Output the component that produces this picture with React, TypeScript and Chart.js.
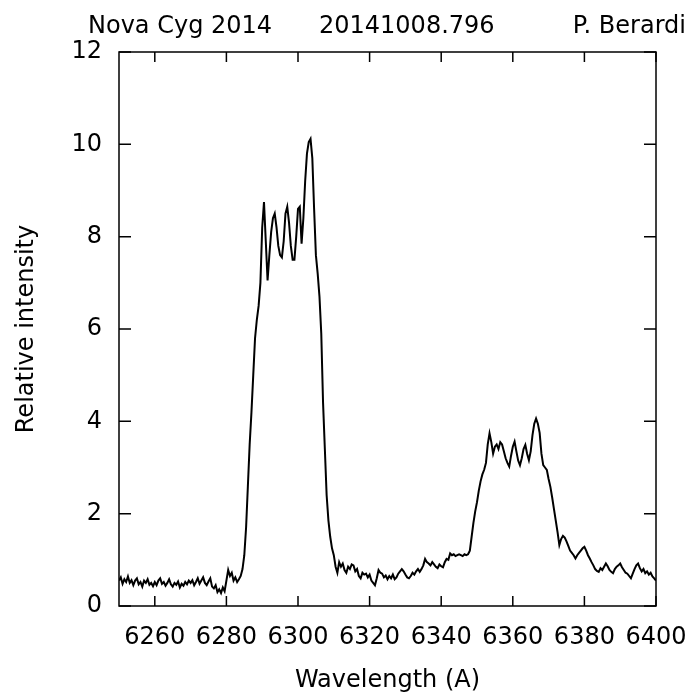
import { useEffect, useRef } from "react";
import { Chart, registerables } from "chart.js";

Chart.register(...registerables);

const TITLE_LEFT = "Nova Cyg 2014";
const TITLE_MID = "20141008.796";
const TITLE_RIGHT = "P. Berardi";
const X_LABEL = "Wavelength (A)";
const Y_LABEL = "Relative intensity";

const X_MIN = 6250;
const X_MAX = 6400;
const Y_MIN = 0;
const Y_MAX = 12;
const X_TICKS = [6260, 6280, 6300, 6320, 6340, 6360, 6380, 6400];
const Y_TICKS = [0, 2, 4, 6, 8, 10, 12];

// spectrum sampled every 0.5 A starting at 6250 A
const WL_START = 6250;
const WL_STEP = 0.5;
const INTENSITY = [
  0.55, 0.62, 0.48, 0.58, 0.52, 0.64, 0.50, 0.56, 0.45, 0.55, // 6250
  0.60, 0.47, 0.52, 0.42, 0.55, 0.50, 0.58, 0.46, 0.50, 0.43, // 6255
  0.52, 0.45, 0.55, 0.60, 0.48, 0.52, 0.44, 0.50, 0.58, 0.47, // 6260
  0.42, 0.50, 0.46, 0.53, 0.40, 0.48, 0.44, 0.52, 0.47, 0.55, // 6265
  0.50, 0.56, 0.45, 0.52, 0.60, 0.48, 0.55, 0.62, 0.50, 0.45, // 6270
  0.53, 0.60, 0.42, 0.38, 0.45, 0.30, 0.36, 0.28, 0.40, 0.32, // 6275
  0.55, 0.78, 0.65, 0.72, 0.55, 0.62, 0.52, 0.58, 0.65, 0.80, // 6280
  1.10, 1.70, 2.60, 3.50, 4.20, 5.00, 5.80, 6.20, 6.50, 7.00, // 6285
  8.20, 8.75, 7.90, 7.05, 7.60, 8.10, 8.40, 8.50, 8.20, 7.80, // 6290
  7.60, 7.55, 7.90, 8.50, 8.65, 8.30, 7.80, 7.50, 7.50, 8.00, // 6295
  8.60, 8.65, 7.85, 8.40, 9.20, 9.80, 10.05, 10.12, 9.70, 8.60, // 6300
  7.60, 7.20, 6.70, 5.90, 4.40, 3.40, 2.40, 1.85, 1.50, 1.25, // 6305
  1.10, 0.85, 0.72, 0.95, 0.85, 0.92, 0.78, 0.72, 0.85, 0.80, // 6310
  0.90, 0.88, 0.75, 0.80, 0.65, 0.60, 0.72, 0.68, 0.70, 0.62, // 6315
  0.68, 0.55, 0.50, 0.45, 0.60, 0.78, 0.72, 0.70, 0.62, 0.66, // 6320
  0.58, 0.65, 0.60, 0.68, 0.58, 0.62, 0.70, 0.75, 0.80, 0.75, // 6325
  0.68, 0.62, 0.60, 0.65, 0.72, 0.68, 0.75, 0.80, 0.74, 0.80, // 6330
  0.88, 1.02, 0.95, 0.92, 0.88, 0.95, 0.90, 0.85, 0.82, 0.90, // 6335
  0.86, 0.84, 0.95, 1.02, 1.00, 1.14, 1.10, 1.12, 1.08, 1.10, // 6340
  1.12, 1.10, 1.08, 1.12, 1.10, 1.12, 1.20, 1.50, 1.80, 2.05, // 6345
  2.25, 2.50, 2.70, 2.85, 2.95, 3.10, 3.50, 3.74, 3.55, 3.30, // 6350
  3.45, 3.50, 3.40, 3.55, 3.50, 3.35, 3.20, 3.10, 3.02, 3.25, // 6355
  3.45, 3.56, 3.35, 3.15, 3.05, 3.20, 3.40, 3.49, 3.30, 3.16, // 6360
  3.35, 3.70, 3.95, 4.06, 3.95, 3.75, 3.30, 3.05, 3.00, 2.95, // 6365
  2.75, 2.58, 2.35, 2.10, 1.85, 1.60, 1.32, 1.45, 1.52, 1.48, // 6370
  1.40, 1.30, 1.20, 1.15, 1.10, 1.03, 1.10, 1.15, 1.20, 1.25, // 6375
  1.28, 1.20, 1.10, 1.03, 0.95, 0.88, 0.80, 0.76, 0.74, 0.82, // 6380
  0.78, 0.85, 0.92, 0.86, 0.78, 0.74, 0.71, 0.80, 0.85, 0.88, // 6385
  0.92, 0.84, 0.78, 0.72, 0.70, 0.65, 0.60, 0.70, 0.80, 0.88, // 6390
  0.92, 0.82, 0.75, 0.80, 0.71, 0.75, 0.68, 0.72, 0.64, 0.60, // 6395
  0.55, // 6400
];

const FONT_FAMILY = '"DejaVu Sans", Verdana, sans-serif';
const FONT_SIZE = 24;
const INK = "#000000";

const framePlugin = {
  id: "gnuFrame",
  afterDatasetsDraw(chart: any) {
    const { ctx, chartArea: a, scales } = chart;
    ctx.save();
    ctx.strokeStyle = INK;
    ctx.lineWidth = 1.5;
    ctx.strokeRect(a.left, a.top, a.right - a.left, a.bottom - a.top);
    ctx.beginPath();
    for (const v of X_TICKS) {
      const px = scales.x.getPixelForValue(v);
      ctx.moveTo(px, a.bottom);
      ctx.lineTo(px, a.bottom - 10);
      ctx.moveTo(px, a.top);
      ctx.lineTo(px, a.top + 10);
    }
    for (const v of Y_TICKS) {
      const py = scales.y.getPixelForValue(v);
      ctx.moveTo(a.left, py);
      ctx.lineTo(a.left + 12, py);
      ctx.moveTo(a.right, py);
      ctx.lineTo(a.right - 12, py);
    }
    ctx.stroke();

    ctx.font = `${FONT_SIZE}px ${FONT_FAMILY}`;
    ctx.fillStyle = INK;
    ctx.textBaseline = "alphabetic";
    ctx.textAlign = "left";
    ctx.fillText(TITLE_LEFT, 88, 33);
    ctx.fillText(TITLE_MID, 319, 33);
    ctx.textAlign = "right";
    ctx.fillText(TITLE_RIGHT, 686, 33);
    ctx.restore();
  },
};

export default function App() {
  const canvasRef = useRef<HTMLCanvasElement | null>(null);

  useEffect(() => {
    const canvas = canvasRef.current;
    if (!canvas) return;
    const points = INTENSITY.map((y, i) => ({ x: WL_START + i * WL_STEP, y }));
    const font = { family: FONT_FAMILY, size: FONT_SIZE };
    const chart = new Chart(canvas, {
      type: "line",
      data: {
        datasets: [
          {
            data: points,
            borderColor: INK,
            borderWidth: 2,
            pointRadius: 0,
            tension: 0,
            fill: false,
          },
        ],
      },
      options: {
        animation: false,
        responsive: false,
        devicePixelRatio: 1,
        layout: { padding: { top: 52, right: 37, left: 0, bottom: 0 } },
        plugins: {
          legend: { display: false },
          tooltip: { enabled: false },
          title: { display: false },
        },
        scales: {
          x: {
            type: "linear",
            min: X_MIN,
            max: X_MAX,
            afterBuildTicks: (scale: any) => {
              scale.ticks = X_TICKS.map((value) => ({ value }));
            },
            afterFit: (scale: any) => {
              scale.height = 87;
              scale.paddingLeft = 0;
              scale.paddingRight = 0;
            },
            grid: { display: false, drawTicks: false },
            border: { display: false },
            ticks: {
              font,
              color: INK,
              padding: 17,
              maxRotation: 0,
              autoSkip: false,
              callback: (v: any) => String(v),
            },
            title: {
              display: true,
              text: X_LABEL,
              font,
              color: INK,
              padding: { top: 0, bottom: -2 },
            },
          },
          y: {
            type: "linear",
            min: Y_MIN,
            max: Y_MAX,
            afterBuildTicks: (scale: any) => {
              scale.ticks = Y_TICKS.map((value) => ({ value }));
            },
            afterFit: (scale: any) => {
              scale.width = 119;
              scale.paddingTop = 0;
              scale.paddingBottom = 0;
            },
            grid: { display: false, drawTicks: false },
            border: { display: false },
            ticks: {
              font,
              color: INK,
              padding: 17,
              autoSkip: false,
              callback: (v: any) => String(v),
            },
            title: {
              display: true,
              text: Y_LABEL,
              font,
              color: INK,
              padding: { top: 12, bottom: 0 },
            },
          },
        },
      },
      plugins: [framePlugin],
    });
    return () => chart.destroy();
  }, []);

  return (
    <div style={{ position: "fixed", left: 0, top: 0, width: 693, height: 693, background: "#fff" }}>
      <canvas ref={canvasRef} width={693} height={693} style={{ width: 693, height: 693 }} />
    </div>
  );
}
